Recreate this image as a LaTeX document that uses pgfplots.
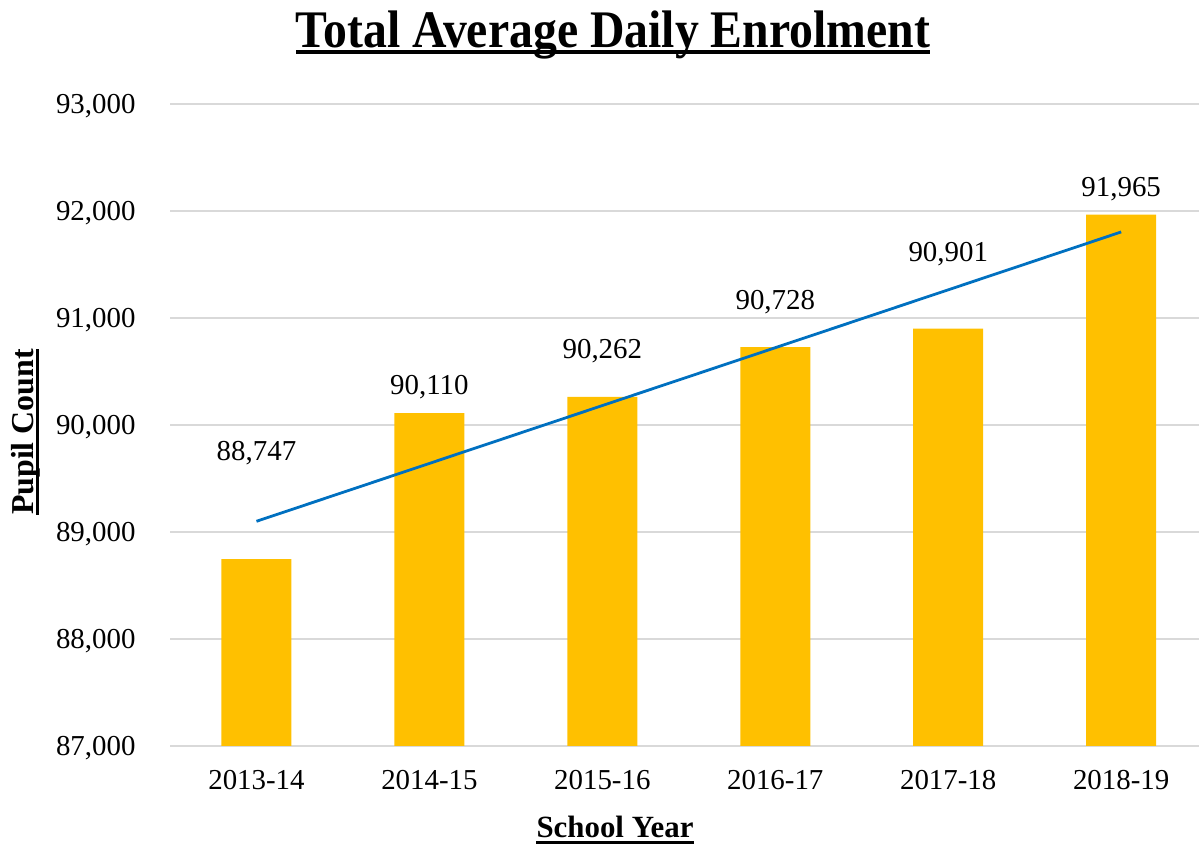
\documentclass[border=0pt]{standalone}
\usepackage{pgfplots}
\pgfplotsset{compat=1.18}
\usepackage{fontspec}
\setmainfont{Liberation Serif}
\definecolor{barc}{HTML}{FFC000}
\definecolor{trendc}{HTML}{0070C0}
\definecolor{gridc}{HTML}{D9D9D9}
\begin{document}
\begin{tikzpicture}[x=1bp,y=1bp]
\path[use as bounding box] (0,0) rectangle (1199,850);
\begin{axis}[
  at={(170bp,104bp)}, anchor=south west,
  scale only axis, width=1029bp, height=642bp,
  xmin=-0.5, xmax=5.45, ymin=87000, ymax=93000,
  ytick={87000,88000,...,93000},
  scaled y ticks=false,
  xtick={0,...,5},
  xticklabels={2013-14,2014-15,2015-16,2016-17,2017-18,2018-19},
  axis x line*=bottom, axis y line*=left,
  x axis line style={draw=gridc, line width=1.2pt, -},
  y axis line style={draw=none},
  ymajorgrids, grid style={draw=gridc, line width=1.2pt},
  major tick length=0pt,
  /pgf/number format/assume math mode=true,
  /pgf/number format/1000 sep={,},
  tick label style={font=\fontsize{29}{33}\selectfont},
  yticklabel style={xshift=-31bp, yshift=-2bp},
  xticklabel style={yshift=-21bp},
  clip=false,
]
\addplot[ybar, bar width=70bp, fill=barc, draw=none] coordinates {
  (0,88747) (1,90110) (2,90262) (3,90728) (4,90901) (5,91965)};
\addplot[trendc, line width=2.8pt] coordinates {(0,89100) (5,91804)};
\begin{scope}[every node/.style={font=\fontsize{29}{33}\selectfont}]
\node at (axis cs:0,89740) {88,747};
\node at (axis cs:1,90350) {90,110};
\node at (axis cs:2,90690) {90,262};
\node at (axis cs:3,91145) {90,728};
\node at (axis cs:4,91595) {90,901};
\node at (axis cs:5,92200) {91,965};
\end{scope}
\end{axis}
\node[anchor=base, inner sep=0, xscale=0.904] (t) at (613,802) {\fontsize{53}{60}\selectfont\bfseries Total Average Daily Enrolment};
\fill ([yshift=-2bp]t.base west) rectangle ([yshift=-6bp]t.base east);
\node[anchor=base, inner sep=0, rotate=90] (p) at (33,418) {\fontsize{32}{36}\selectfont\bfseries Pupil Count};
\fill ([xshift=3bp]p.base west) rectangle ([xshift=6bp]p.base east);
\node[anchor=base, inner sep=0] (s) at (615,12) {\fontsize{31}{36}\selectfont\bfseries School Year};
\fill ([yshift=-3bp]s.base west) rectangle ([yshift=-6bp]s.base east);
\end{tikzpicture}
\end{document}
